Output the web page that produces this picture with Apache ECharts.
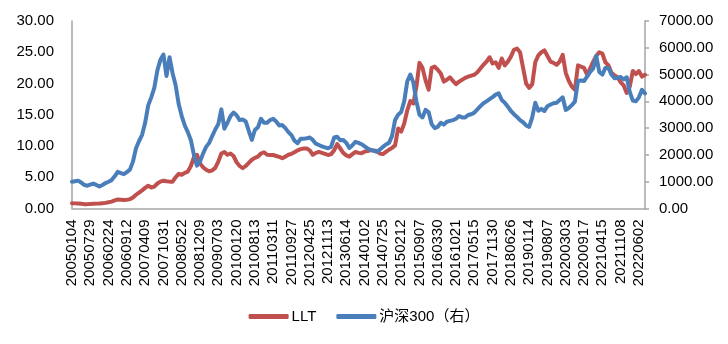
<!DOCTYPE html>
<html>
<head>
<meta charset="utf-8">
<script src="https://cdn.jsdelivr.net/npm/echarts@6/dist/echarts.min.js"></script>
<style>
html,body{margin:0;padding:0;background:#fff;}
#c{width:728px;height:344px;}
</style>
</head>
<body>
<div id="c"></div>
<script>
// Tick labels shown on the x axis (one every 6 samples)
var tickLabels = ['20050104','20050729','20060224','20060912','20070409','20071031','20080522','20081209',
  '20090703','20100120','20100813','20110311','20110927','20120425','20121113','20130614','20140102',
  '20140725','20150212','20150907','20160330','20161021','20170515','20171130','20180626','20190114',
  '20190807','20200303','20200917','20210415','20211108','20220602'];
var samplesPerTick = 6;
var tailSamples = 2;

// LLT (left axis)
var lltValues = [
  0.85,0.82,0.8,0.75,0.7,0.7,0.72,0.75,0.78,0.8,
  0.85,0.9,1.0,1.1,1.3,1.45,1.4,1.35,1.38,1.5,
  1.75,2.2,2.55,2.9,3.3,3.65,3.35,3.5,4.0,4.3,
  4.45,4.35,4.3,4.3,5.0,5.55,5.4,5.7,5.9,6.8,
  8.2,8.6,7.2,6.6,6.2,5.95,6.1,6.5,7.5,8.8,
  9.05,8.6,8.8,8.4,7.4,6.8,6.45,6.8,7.3,7.8,
  8.1,8.3,8.8,9.0,8.6,8.55,8.56,8.4,8.25,8.05,
  8.3,8.6,8.75,9.0,9.3,9.5,9.6,9.6,9.3,8.6,
  8.9,9.05,8.9,8.75,8.56,8.7,9.3,10.3,9.6,8.9,
  8.5,8.3,8.7,9.05,8.9,8.85,9.1,9.2,9.35,9.3,
  9.2,8.8,8.7,9.05,9.4,9.7,10.1,12.8,12.3,13.6,
  15.7,17.2,16.8,19.5,23.3,22.5,20.5,19.0,22.5,22.7,
  22.2,21.6,20.3,20.6,21.0,20.4,19.9,20.3,20.6,20.9,
  21.1,21.25,21.4,21.8,22.4,23.0,23.5,24.2,23.2,23.4,
  22.5,24.0,22.9,23.5,24.3,25.4,25.6,25.0,22.5,20.0,
  19.3,19.9,23.4,24.5,25.0,25.3,24.4,23.5,23.3,23.0,
  23.5,24.6,21.7,20.4,19.5,19.0,22.9,22.7,22.5,21.4,
  22.4,23.5,24.4,25.0,24.8,23.4,22.9,21.7,21.3,21.0,
  20.2,19.7,18.5,19.5,22.0,21.5,22.0,21.1,21.4
];

// CSI 300 (right axis)
var csi300Values = [
  1000,1020,1040,970,880,850,890,930,880,820,
  880,950,1000,1060,1200,1370,1320,1280,1360,1450,
  1750,2250,2520,2750,3200,3850,4150,4500,5150,5550,
  5750,4950,5650,5050,4600,3900,3450,3100,2850,2550,
  2000,1600,1750,2050,2300,2450,2700,2950,3150,3700,
  2980,3200,3450,3580,3480,3300,3320,3250,2900,2560,
  2930,3030,3350,3200,3200,3300,3350,3250,3100,3115,
  3000,2850,2740,2530,2440,2600,2600,2620,2650,2560,
  2420,2370,2320,2280,2250,2300,2650,2680,2550,2560,
  2450,2260,2360,2490,2450,2400,2320,2240,2190,2150,
  2120,2200,2300,2390,2450,2700,3300,3500,3600,4000,
  4750,5000,4700,4000,3500,3400,3680,3600,3150,3000,
  3050,3200,3130,3240,3270,3300,3350,3450,3400,3400,
  3490,3520,3580,3700,3820,3930,4000,4080,4160,4250,
  4300,4050,3950,3800,3640,3520,3420,3300,3220,3100,
  3050,3400,3950,3650,3720,3640,3820,3880,3930,3950,
  4050,4150,3680,3750,3860,3990,4760,4780,4760,4920,
  5100,5230,5700,5100,5000,5250,5250,5000,4860,4870,
  4910,4820,4900,4350,4030,4000,4150,4430,4300
];

var leftTicks = {min: 0, max: 30, interval: 5};
var rightTicks = {min: 0, max: 7000, interval: 1000};
var seriesNames = ['LLT', '沪深300（右）'];

// Build category list: a tick label followed by blank sample slots
var categories = [];
tickLabels.forEach(function (t, k) {
  categories.push(t);
  if (k < tickLabels.length - 1) {
    for (var j = 1; j < samplesPerTick; j++) categories.push('');
  }
});
for (var j = 0; j < tailSamples; j++) categories.push('');

var FONT = '"Liberation Sans", Arial, "Noto Sans CJK SC", sans-serif';
var axisGray = '#a6a6a6';

var chart = echarts.init(document.getElementById('c'), null, {renderer: 'canvas'});
chart.setOption({
  animation: false,
  backgroundColor: '#fff',
  textStyle: {fontFamily: FONT},
  grid: {left: 72, right: 83, top: 21, bottom: 135.5, containLabel: false},
  legend: {
    data: seriesNames,
    bottom: 15,
    left: 'center',
    itemWidth: 40,
    itemHeight: 5,
    itemGap: 20,
    icon: 'roundRect',
    textStyle: {fontSize: 15, color: '#000', fontFamily: FONT, padding: [0, 0, 0, -2]}
  },
  xAxis: {
    type: 'category',
    data: categories,
    boundaryGap: false,
    axisLine: {lineStyle: {color: axisGray, width: 1.5}},
    axisTick: {show: false},
    splitLine: {show: false},
    axisLabel: {
      interval: 0,
      rotate: 90,
      margin: 11,
      fontSize: 15,
      color: '#000',
      fontFamily: FONT
    }
  },
  yAxis: [
    {
      type: 'value',
      min: leftTicks.min, max: leftTicks.max, interval: leftTicks.interval,
      position: 'left',
      axisLine: {show: true, lineStyle: {color: axisGray, width: 1.5}},
      axisTick: {show: false},
      splitLine: {show: false},
      axisLabel: {
        margin: 18, fontSize: 15, color: '#000', fontFamily: FONT,
        formatter: function (v) { return v.toFixed(2); }
      }
    },
    {
      type: 'value',
      min: rightTicks.min, max: rightTicks.max, interval: rightTicks.interval,
      position: 'right',
      axisLine: {show: true, lineStyle: {color: axisGray, width: 1.5}},
      axisTick: {show: true, length: 4, lineStyle: {color: axisGray, width: 1.5}},
      splitLine: {show: false},
      axisLabel: {
        margin: 14, fontSize: 15, color: '#000', fontFamily: FONT,
        formatter: function (v) { return v.toFixed(2); }
      }
    }
  ],
  series: [
    {
      name: seriesNames[0],
      type: 'line',
      yAxisIndex: 0,
      data: lltValues,
      symbol: 'none',
      lineStyle: {color: '#c0504d', width: 4, join: 'round', cap: 'round'},
      itemStyle: {color: '#c0504d'}
    },
    {
      name: seriesNames[1],
      type: 'line',
      yAxisIndex: 1,
      data: csi300Values,
      symbol: 'none',
      lineStyle: {color: '#4a7ebb', width: 4, join: 'round', cap: 'round'},
      itemStyle: {color: '#4a7ebb'}
    }
  ]
});
</script>
</body>
</html>
